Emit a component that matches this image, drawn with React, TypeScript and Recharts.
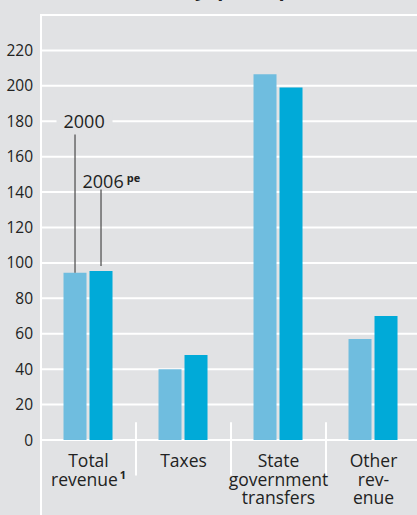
import { BarChart, Bar, XAxis, YAxis, CartesianGrid, ReferenceLine, LabelList } from "recharts";

const categories = ["Total revenue", "Taxes", "State government transfers", "Other revenue"];
const categoryLines = [["Total", "revenue"], ["Taxes"], ["State", "government", "transfers"], ["Other", "rev-", "enue"]];
const footnotes = ["1", "", "", ""];
const values2000 = [94.5, 40, 206.5, 57];
const values2006 = [95.5, 48, 199, 70];
const yTicks = [0, 20, 40, 60, 80, 100, 120, 140, 160, 180, 200, 220, 240];

const data = categories.map((c, i) => ({ category: c, y2000: values2000[i], y2006: values2006[i] }));

const BG = "#e1e2e4";
const LIGHT = "#6fbddf";
const DARK = "#00aad8";
const FONT = "'Open Sans', 'Noto Sans', sans-serif";

function CategoryTick(props: any) {
  const { x, y, payload } = props;
  const i = categories.indexOf(payload.value);
  const lines = categoryLines[i] || [payload.value];
  const note = footnotes[i];
  return (
    <text x={x} y={y + 27} textAnchor="middle" fill="#222" fontSize={17.5} fontFamily={FONT}>
      {lines.map((line, k) => (
        <tspan key={k} x={x} dy={k === 0 ? 0 : 18.5}>
          {line}
          {note && k === lines.length - 1 ? (
            <tspan dy={-7} fontSize={11} fontWeight="bold">{"\u2009" + note}</tspan>
          ) : null}
        </tspan>
      ))}
    </text>
  );
}

// callout for the first group: year label with a leader line down to the bar
function yearCallout(year: string, sup: string, labelValue: number, lineTop: number, gap: number, mask: boolean) {
  return (props: any) => {
    const vb = props.viewBox || props;
    if (props.index !== 0) return null;
    const { x, y, width, height } = vb;
    const value = Number(props.value);
    const unit = height / value;
    const at = (v: number) => y + height - v * unit;
    const cx = x + width / 2;
    const ty = at(labelValue);
    return (
      <g>
        {mask ? <rect x={x - 7} y={ty - 9} width={56} height={18} fill={BG} /> : null}
        <line x1={cx} x2={cx} y1={at(lineTop)} y2={y - gap} stroke="#555" strokeWidth={1.3} />
        <text x={x - (mask ? 0 : 7)} y={ty + 6.5} fill="#222" fontSize={18} fontFamily={FONT}>
          {year}
          {sup ? <tspan dy={-6} dx={3} fontSize={11} fontWeight="bold">{sup}</tspan> : null}
        </text>
      </g>
    );
  };
}

export default function App() {
  return (
    <div style={{ position: "absolute", left: 0, top: 0, width: 417, height: 515, overflow: "hidden", background: BG }}>
      <svg width={417} height={20} style={{ position: "absolute", left: 0, top: 0 }}>
        <text x={318} y={-4} textAnchor="end" fontSize={20} fontWeight="bold" fill="#222" fontFamily={FONT}>
          Revenues of the city, per capita
        </text>
      </svg>
      <BarChart
        width={421}
        height={515}
        data={data}
        margin={{ top: 15, right: 0, bottom: 0, left: 0 }}
        barCategoryGap="23.7%"
        barGap={3}
      >
        <CartesianGrid horizontal vertical={false} stroke="#ffffff" strokeWidth={2} />
        <YAxis
          type="number"
          domain={[0, 240]}
          ticks={yTicks}
          width={41}
          axisLine={false}
          tickLine={false}
          tickSize={0}
          tickMargin={8}
          tickFormatter={(v: number) => (v === 240 ? "" : String(v))}
          tick={{ fill: "#222", fontSize: 15.5, fontFamily: FONT }}
        />
        <XAxis
          dataKey="category"
          axisLine={false}
          tickLine={false}
          tickSize={0}
          tickMargin={0}
          height={75}
          interval={0}
          tick={<CategoryTick />}
        />
        <ReferenceLine
          segment={[{ x: categories[0], y: 240.5 }, { x: categories[0], y: -45 }]}
          position="start"
          ifOverflow="visible"
          stroke="#ffffff"
          strokeWidth={2}
        />
        {categories.slice(1).map((c) => (
          <ReferenceLine
            key={c}
            segment={[{ x: c, y: 10 }, { x: c, y: -20 }]}
            position="start"
            ifOverflow="visible"
            stroke="#ffffff"
            strokeWidth={2}
          />
        ))}
        <Bar dataKey="y2000" fill={LIGHT} isAnimationActive={false}>
          <LabelList dataKey="y2000" content={yearCallout("2000", "", 180, 172.5, 0, true)} />
        </Bar>
        <Bar dataKey="y2006" fill={DARK} isAnimationActive={false}>
          <LabelList dataKey="y2006" content={yearCallout("2006", "pe", 145.8, 141.5, 5, false)} />
        </Bar>
      </BarChart>
    </div>
  );
}
